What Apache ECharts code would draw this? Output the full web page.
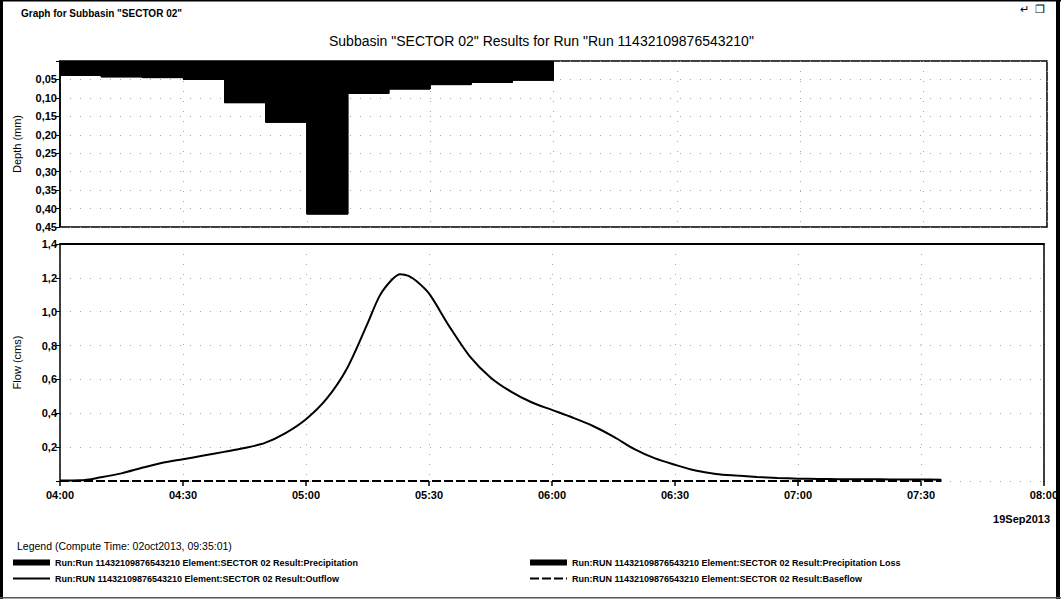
<!DOCTYPE html>
<html>
<head>
<meta charset="utf-8">
<script src="https://cdn.jsdelivr.net/npm/echarts@6/dist/echarts.min.js"></script>
<style>
html,body{margin:0;padding:0;background:#fff;}
#chart{width:1061px;height:599px;}
</style>
</head>
<body>
<div id="chart"></div>
<script>
// ---- Data ----
const windowTitle = 'Graph for Subbasin "SECTOR 02"';
const chartTitle = 'Subbasin "SECTOR 02" Results for Run "Run 11432109876543210"';
const legendHeading = 'Legend (Compute Time: 02oct2013, 09:35:01)';
const dateLabel = '19Sep2013';
const xTickLabels = ['04:00','04:30','05:00','05:30','06:00','06:30','07:00','07:30','08:00'];

const seriesNames = [
  'Run:Run 11432109876543210 Element:SECTOR 02 Result:Precipitation',
  'Run:RUN 11432109876543210 Element:SECTOR 02 Result:Outflow',
  'Run:RUN 11432109876543210 Element:SECTOR 02 Result:Precipitation Loss',
  'Run:RUN 11432109876543210 Element:SECTOR 02 Result:Baseflow'
];

// precipitation depth per 10-min interval (interval start times), mm
const precipTimes = ['04:00','04:10','04:20','04:30','04:40','04:50','05:00','05:10','05:20','05:30','05:40','05:50'];
const precipEnd = '06:00';
const precipValues = [0.039,0.043,0.045,0.050,0.113,0.166,0.415,0.088,0.076,0.064,0.058,0.052];
const precipLossValues = [0.039,0.043,0.045,0.050,0.113,0.166,0.415,0.088,0.076,0.064,0.058,0.052];

// outflow, cms
const flowTimes = ['04:00','04:05','04:10','04:15','04:20','04:25','04:30','04:35','04:40','04:45','04:50','04:55',
                   '05:00','05:05','05:10','05:15','05:18','05:21','05:23','05:25','05:27','05:30','05:35','05:40','05:45','05:50','05:55',
                   '06:00','06:05','06:10','06:15','06:20','06:25','06:30','06:35','06:40','06:45','06:50','06:55',
                   '07:00','07:05','07:10','07:15','07:20','07:25','07:30','07:35'];
const flowValues = [0.003,0.004,0.022,0.045,0.078,0.108,0.129,0.150,0.172,0.195,0.225,0.283,
                    0.365,0.485,0.665,0.930,1.095,1.190,1.222,1.212,1.180,1.108,0.912,0.735,0.612,0.528,0.465,
                    0.420,0.375,0.325,0.262,0.190,0.135,0.096,0.062,0.042,0.032,0.024,0.018,
                    0.014,0.012,0.011,0.010,0.010,0.009,0.009,0.008];

// baseflow, cms
const baseflowTimes = ['04:00','07:35'];
const baseflowValues = [0, 0];

// ---- helpers ----
function toMin(t){ const p=t.split(':'); return (+p[0])*60 + (+p[1]) - 240; }
function fmtTime(m){ const h=Math.floor((m+240)/60), mm=(m+240)%60; return String(h).padStart(2,'0')+':'+String(mm).padStart(2,'0'); }

const precipData = precipTimes.map((t,i)=>[toMin(t), precipValues[i]]).concat([[toMin(precipEnd), 0]]);
const precipLossData = precipTimes.map((t,i)=>[toMin(t), precipLossValues[i]]).concat([[toMin(precipEnd), 0]]);
const flowData = flowTimes.map((t,i)=>[toMin(t), flowValues[i]]);
const baseflowData = baseflowTimes.map((t,i)=>[toMin(t), baseflowValues[i]]);

const FONT = 'Liberation Sans';
const gridLine = {show:true, lineStyle:{color:'#a8a8a8', type:[1,9], width:1}};
const axLabel = {color:'#000', fontSize:11, fontWeight:'bold', fontFamily:FONT};
const legendText = {fontSize:9, fontWeight:'bold', color:'#000', fontFamily:FONT};

const chart = echarts.init(document.getElementById('chart'), null, {renderer:'svg'});
chart.setOption({
  animation:false,
  backgroundColor:'#fff',
  textStyle:{fontFamily:FONT},
  title:[
    {text:windowTitle, left:16, top:3, textStyle:{fontSize:10, fontWeight:'bold', color:'#000', fontFamily:FONT}},
    {text:chartTitle, left:324, top:29, textStyle:{fontSize:14, fontWeight:'normal', color:'#000', fontFamily:FONT}},
    {text:legendHeading, left:12, top:535, textStyle:{fontSize:10.5, fontWeight:'normal', color:'#000', fontFamily:FONT}},
    {text:dateLabel, right:6, top:508, textStyle:{fontSize:11, fontWeight:'bold', color:'#000', fontFamily:FONT}}
  ],
  grid:[
    {left:60, right:14, top:61, height:166, show:true, borderColor:'#000', borderWidth:1.5, backgroundColor:'transparent'},
    {left:60, right:14, top:244, height:237}
  ],
  xAxis:[
    {gridIndex:0, type:'value', min:0, max:240, interval:30,
     axisLine:{show:false, onZero:false}, axisTick:{show:false}, axisLabel:{show:false}, splitLine:gridLine},
    {gridIndex:1, type:'value', min:0, max:240, interval:30, position:'bottom',
     axisLine:{show:false, onZero:false},
     axisTick:{show:true, length:5, lineStyle:{color:'#000', width:1.5}},
     axisLabel:Object.assign({margin:8, formatter:(v)=>xTickLabels[Math.round(v/30)] || fmtTime(v)}, axLabel),
     splitLine:gridLine},
    {gridIndex:1, type:'value', min:0, max:240, interval:30, position:'top',
     axisLine:{show:true, onZero:false, lineStyle:{color:'#000', width:2}},
     axisTick:{show:false}, axisLabel:{show:false}, splitLine:{show:false}}
  ],
  yAxis:[
    {gridIndex:0, type:'value', inverse:true, min:0, max:0.45, interval:0.05,
     name:'Depth (mm)', nameLocation:'middle', nameGap:38,
     nameTextStyle:{fontSize:11, color:'#000', fontFamily:FONT},
     axisLine:{show:true, onZero:false, lineStyle:{color:'#000', width:1.5}},
     axisTick:{show:true, length:4, lineStyle:{color:'#000'}},
     axisLabel:Object.assign({margin:3, formatter:(v)=> v===0 ? '' : v.toFixed(2).replace('.',',')}, axLabel),
     splitLine:gridLine},
    {gridIndex:1, type:'value', min:0, max:1.4, interval:0.2,
     name:'Flow (cms)', nameLocation:'middle', nameGap:38,
     nameTextStyle:{fontSize:11, color:'#000', fontFamily:FONT},
     axisLine:{show:true, onZero:false, lineStyle:{color:'#000', width:1.5}},
     axisTick:{show:true, length:4, lineStyle:{color:'#000'}},
     axisLabel:Object.assign({margin:3, formatter:(v)=> v===0 ? '' : v.toFixed(1).replace('.',',')}, axLabel),
     splitLine:gridLine},
    {gridIndex:1, type:'value', min:0, max:1.4, position:'right',
     axisLine:{show:true, onZero:false, lineStyle:{color:'#000', width:1.5}},
     axisTick:{show:false}, axisLabel:{show:false}, splitLine:{show:false}}
  ],
  legend:[
    {left:12, top:558, padding:0, orient:'vertical', itemWidth:37, itemHeight:6, itemGap:7,
     data:[{name:seriesNames[0], icon:'rect'}, {name:seriesNames[1], itemStyle:{opacity:0}}],
     textStyle:legendText},
    {left:529, top:558, padding:0, orient:'vertical', itemWidth:37, itemHeight:6, itemGap:7,
     data:[{name:seriesNames[2], icon:'rect'}, {name:seriesNames[3], itemStyle:{opacity:0}}],
     textStyle:legendText}
  ],
  series:[
    {name:seriesNames[0], type:'line', xAxisIndex:0, yAxisIndex:0, step:'end', data:precipData,
     symbol:'none', lineStyle:{color:'#000', width:1}, itemStyle:{color:'#000'},
     areaStyle:{color:'#000', opacity:1}},
    {name:seriesNames[2], type:'line', xAxisIndex:0, yAxisIndex:0, step:'end', data:precipLossData,
     symbol:'none', lineStyle:{color:'#000', width:1}, itemStyle:{color:'#000'},
     areaStyle:{color:'#000', opacity:1}},
    {name:seriesNames[1], type:'line', xAxisIndex:1, yAxisIndex:1, data:flowData, smooth:0.3,
     symbol:'none', lineStyle:{color:'#000', width:2}, itemStyle:{color:'#000'}},
    {name:seriesNames[3], type:'line', xAxisIndex:1, yAxisIndex:1, data:baseflowData,
     symbol:'none', lineStyle:{color:'#000', width:2, type:[9,3]}, itemStyle:{color:'#000'}}
  ],
  graphic:[
    {type:'rect', shape:{x:0, y:0, width:3, height:599}, style:{fill:'#000'}},
    {type:'rect', shape:{x:1056, y:0, width:4, height:599}, style:{fill:'#000'}},
    {type:'rect', shape:{x:0, y:0, width:1061, height:1.5}, style:{fill:'#000'}},
    {type:'rect', shape:{x:0, y:597, width:1061, height:1.5}, style:{fill:'#555'}},
    {type:'text', x:1020, y:3, style:{text:'\u21B5  \u2750', fontSize:11, fill:'#000'}}
  ]
});
</script>
</body>
</html>
